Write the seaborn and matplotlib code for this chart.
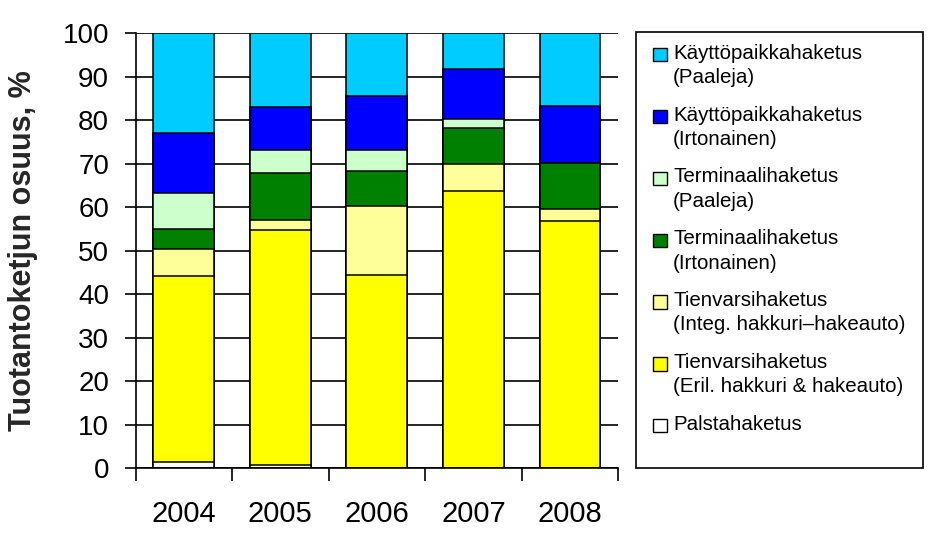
import numpy as np
import pandas as pd
import matplotlib
matplotlib.use("Agg")
import matplotlib.pyplot as plt
import matplotlib.patches as mpatches
from matplotlib.legend_handler import HandlerPatch
from matplotlib.offsetbox import HPacker
import seaborn as sns

years = ["2004", "2005", "2006", "2007", "2008"]
series_names = [
    "Palstahaketus",
    "Tienvarsihaketus\n(Eril. hakkuri & hakeauto)",
    "Tienvarsihaketus\n(Integ. hakkuri\u2013hakeauto)",
    "Terminaalihaketus\n(Irtonainen)",
    "Terminaalihaketus\n(Paaleja)",
    "K\u00e4ytt\u00f6paikkahaketus\n(Irtonainen)",
    "K\u00e4ytt\u00f6paikkahaketus\n(Paaleja)",
]
palsta = [1.4, 0.8, 0.0, 0.0, 0.0]
eril = [42.7, 53.9, 44.4, 63.7, 56.8]
integ = [6.2, 2.3, 15.8, 6.3, 2.7]
term_irt = [4.6, 11.0, 8.1, 8.2, 10.6]
term_paal = [8.5, 5.1, 4.8, 2.0, 0.0]
kayt_irt = [13.6, 9.9, 12.4, 11.5, 13.3]
kayt_paal = [23.0, 17.0, 14.5, 8.3, 16.6]
colors = ["#FFFFFF", "#FFFF00", "#FFFF99", "#008000", "#CCFFCC", "#0000FF", "#00CCFF"]

values = [palsta, eril, integ, term_irt, term_paal, kayt_irt, kayt_paal]
df = pd.DataFrame({name: v for name, v in zip(series_names, values)}, index=years)
cum = df.cumsum(axis=1)
cum.iloc[:, -1] = 100.0

sns.set_theme(style="white")
plt.rcParams["font.family"] = ["Liberation Sans", "DejaVu Sans"]

fig = plt.figure(figsize=(9.38, 5.41), dpi=100)
ax = fig.add_axes([135.5 / 938, 1 - 468.3 / 541, (618.3 - 135.5) / 938, (468.3 - 33.3) / 541])

ax.yaxis.grid(True, color="black", linewidth=1.2, zorder=0)
ax.set_axisbelow(True)

# Draw cumulative bars from top series to bottom so they appear stacked
for i in range(len(series_names) - 1, -1, -1):
    name = series_names[i]
    d = pd.DataFrame({"year": years, "val": cum[name].values})
    sns.barplot(data=d, x="year", y="val", color=colors[i], width=0.63,
                edgecolor="black", linewidth=1.1, saturation=1, ax=ax, zorder=2)

ax.set_ylim(0, 100)
ax.set_xlim(-0.5, 4.5)
ax.set_yticks(np.arange(0, 101, 10))
ax.tick_params(axis="y", labelsize=20, length=8, width=1.2, direction="out", pad=11, left=True, colors="black")
ax.tick_params(axis="x", labelsize=21, length=0, pad=23, colors="black")
ax.set_xticks(np.arange(-0.5, 4.6, 1.0), minor=True)
ax.tick_params(axis="x", which="minor", length=9, width=1.2, direction="out", bottom=True, color="black")
ax.set_xlabel("")
ax.set_ylabel("Tuotantoketjun osuus, %", fontsize=22, fontweight="bold", labelpad=18)

for s in ["top", "right"]:
    ax.spines[s].set_visible(False)
for s in ["left", "bottom"]:
    ax.spines[s].set_color("black")
    ax.spines[s].set_linewidth(1.2)

# Legend frame
frame = mpatches.Rectangle((636 / 938, 1 - 468 / 541), (923 - 636) / 938, (468 - 32) / 541,
                           transform=fig.transFigure, facecolor="white", edgecolor="black",
                           linewidth=1.2, zorder=0)
fig.patches.append(frame)

LEG_FS = 14.8
SQ = 9.6  # points


def square_patch(legend, orig_handle, xdescent, ydescent, width, height, fontsize):
    top = -ydescent + height
    return mpatches.Rectangle((-xdescent, top - 3.0 - SQ), SQ, SQ)


handles = [mpatches.Patch(facecolor=colors[i], edgecolor="black", linewidth=1.0,
                          label=series_names[i]) for i in range(len(series_names) - 1, -1, -1)]
leg = fig.legend(handles=handles, loc="upper left", bbox_to_anchor=(643 / 938, 1 - 33.5 / 541),
                 frameon=False, fontsize=LEG_FS, handlelength=SQ / LEG_FS, handleheight=1.2,
                 handletextpad=0.32, labelspacing=0.905, borderpad=0.0, alignment="left",
                 handler_map={mpatches.Patch: HandlerPatch(patch_func=square_patch)})
for t in leg.get_texts():
    t.set_linespacing(1.35)
    t.set_color("black")
for hp in leg.findobj(HPacker):
    hp.align = "top"

fig.savefig("out.png", dpi=100)
